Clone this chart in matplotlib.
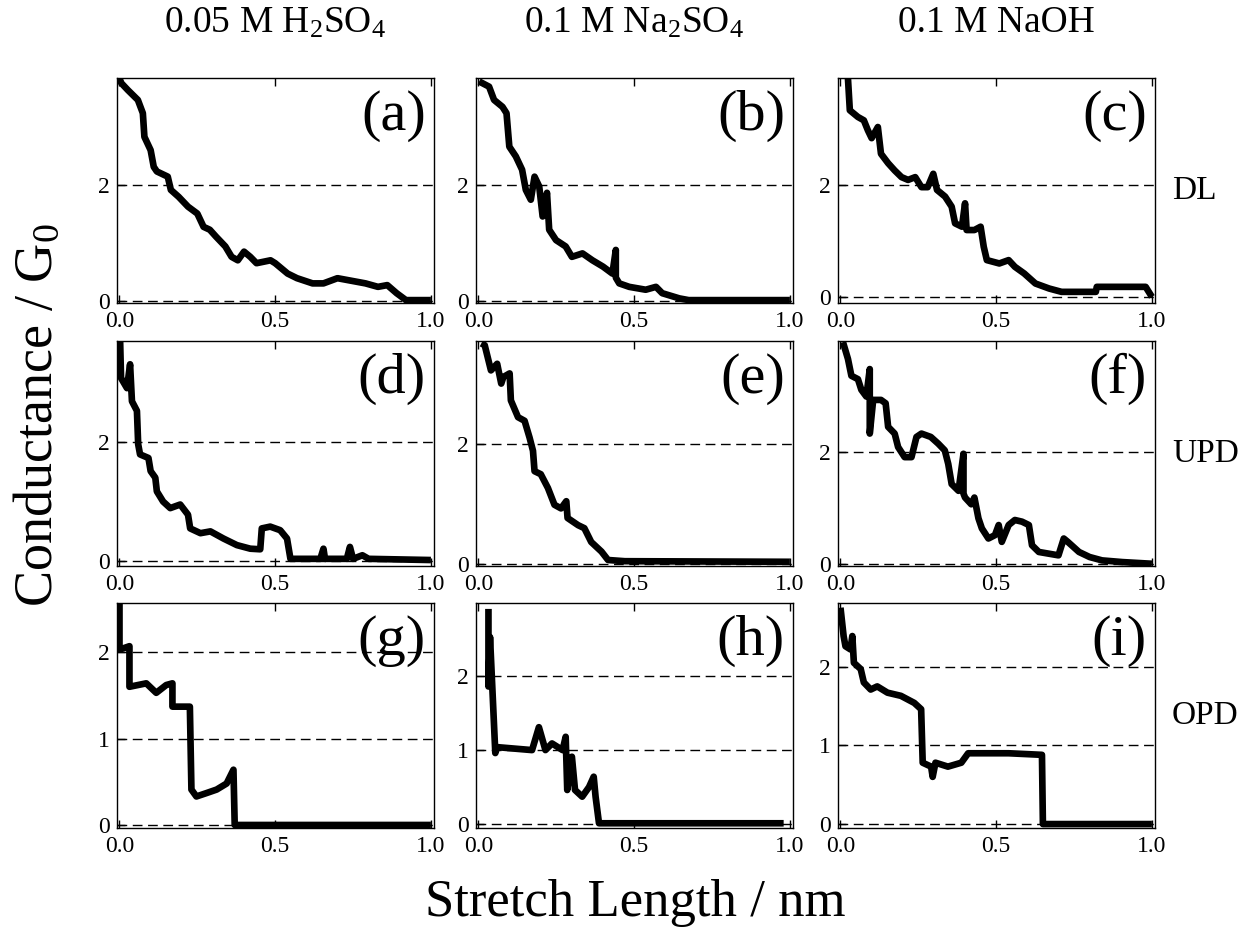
import matplotlib
matplotlib.use("Agg")
import matplotlib.pyplot as plt

plt.rcParams["font.family"] = "serif"
plt.rcParams["font.serif"] = ["Liberation Serif", "DejaVu Serif"]
plt.rcParams["mathtext.fontset"] = "custom"
plt.rcParams["mathtext.rm"] = "Liberation Serif"
plt.rcParams["mathtext.it"] = "Liberation Serif:italic"

col_titles = [r"0.05 M H$_2$SO$_4$", r"0.1 M Na$_2$SO$_4$", "0.1 M NaOH"]
row_labels = ["DL", "UPD", "OPD"]
panel_tags = ["(a)", "(b)", "(c)", "(d)", "(e)", "(f)", "(g)", "(h)", "(i)"]
x_ticks = [0.0, 0.5, 1.0]
x_ticklabels = ["0.0", "0.5", "1.0"]
row_yticks = [[0, 2], [0, 2], [0, 1, 2]]

# traces (stretch length nm, conductance G0)
a_x = [0.0, 0.006, 0.027, 0.059, 0.075, 0.08, 0.10, 0.11, 0.12, 0.155, 0.165, 0.19, 0.22, 0.25, 0.27,
       0.29, 0.31, 0.34, 0.36, 0.38, 0.40, 0.42, 0.44, 0.485, 0.50, 0.54, 0.57, 0.62, 0.655, 0.70,
       0.74, 0.79, 0.83, 0.86, 0.89, 0.92, 1.0]
a_y = [3.85, 3.77, 3.65, 3.48, 3.25, 2.84, 2.61, 2.32, 2.24, 2.15, 1.92, 1.80, 1.63, 1.51, 1.28,
       1.23, 1.11, 0.94, 0.76, 0.70, 0.85, 0.76, 0.65, 0.70, 0.65, 0.47, 0.39, 0.30, 0.30, 0.39,
       0.35, 0.30, 0.24, 0.27, 0.13, 0.01, 0.01]

b_x = [0.002, 0.034, 0.05, 0.077, 0.09, 0.099, 0.12, 0.14, 0.152, 0.168, 0.18, 0.195, 0.206, 0.22,
       0.227, 0.249, 0.28, 0.30, 0.334, 0.366, 0.40, 0.43, 0.441, 0.441, 0.452, 0.484, 0.537, 0.57,
       0.59, 0.645, 0.675, 1.0]
b_y = [3.8, 3.71, 3.48, 3.36, 3.25, 2.67, 2.50, 2.27, 1.92, 1.75, 2.15, 1.98, 1.46, 1.87,
       1.23, 1.05, 0.94, 0.76, 0.82, 0.70, 0.59, 0.47, 0.88, 0.40, 0.30, 0.24, 0.19, 0.24,
       0.13, 0.04, 0.01, 0.01]

c_x = [0.024, 0.03, 0.056, 0.075, 0.088, 0.10, 0.12, 0.13, 0.153, 0.174, 0.196, 0.217, 0.24, 0.26,
       0.28, 0.298, 0.31, 0.336, 0.357, 0.368, 0.39, 0.40, 0.405, 0.43, 0.45, 0.46, 0.47, 0.51,
       0.54, 0.56, 0.59, 0.626, 0.67, 0.71, 0.82, 0.823, 0.98, 1.0]
c_y = [3.92, 3.35, 3.23, 3.17, 2.99, 2.85, 3.05, 2.57, 2.40, 2.27, 2.15, 2.10, 2.15, 1.97,
       1.97, 2.21, 1.92, 1.80, 1.62, 1.32, 1.26, 1.68, 1.20, 1.20, 1.26, 0.90, 0.66, 0.60,
       0.66, 0.54, 0.42, 0.24, 0.15, 0.09, 0.09, 0.18, 0.18, 0.0]

d_x = [0.002, 0.005, 0.024, 0.034, 0.04, 0.056, 0.06, 0.066, 0.093, 0.10, 0.115, 0.12, 0.14, 0.163,
       0.195, 0.22, 0.227, 0.26, 0.292, 0.334, 0.377, 0.42, 0.452, 0.457, 0.484, 0.516, 0.538,
       0.549, 0.645, 0.655, 0.66, 0.73, 0.74, 0.75, 0.78, 0.80, 1.0]
d_y = [3.70, 3.07, 2.90, 3.30, 2.68, 2.52, 1.96, 1.79, 1.73, 1.51, 1.40, 1.17, 1.00, 0.89,
       0.95, 0.78, 0.55, 0.47, 0.50, 0.38, 0.27, 0.21, 0.20, 0.55, 0.58, 0.52, 0.38,
       0.04, 0.04, 0.21, 0.04, 0.04, 0.24, 0.04, 0.10, 0.04, 0.02]

e_x = [0.009, 0.02, 0.04, 0.06, 0.073, 0.08, 0.10, 0.104, 0.127, 0.148, 0.164, 0.175, 0.18, 0.20,
       0.223, 0.244, 0.265, 0.282, 0.286, 0.32, 0.34, 0.362, 0.395, 0.416, 0.47, 1.0]
e_y = [3.67, 3.64, 3.22, 3.33, 3.0, 3.11, 3.17, 2.72, 2.44, 2.38, 2.10, 1.88, 1.54, 1.49,
       1.26, 0.98, 0.92, 1.04, 0.76, 0.64, 0.59, 0.36, 0.20, 0.06, 0.04, 0.03]

f_x = [0.008, 0.024, 0.035, 0.056, 0.067, 0.083, 0.094, 0.094, 0.105, 0.13, 0.145, 0.153, 0.174,
       0.185, 0.206, 0.228, 0.244, 0.26, 0.29, 0.314, 0.335, 0.346, 0.357, 0.379, 0.395, 0.395,
       0.40, 0.42, 0.43, 0.443, 0.454, 0.475, 0.496, 0.508, 0.518, 0.54, 0.56, 0.583, 0.605,
       0.615, 0.637, 0.70, 0.717, 0.73, 0.766, 0.80, 0.84, 0.905, 1.0]
f_y = [3.95, 3.65, 3.35, 3.29, 3.10, 2.98, 3.47, 2.32, 2.92, 2.92, 2.86, 2.44, 2.32,
       2.08, 1.90, 1.90, 2.26, 2.32, 2.26, 2.14, 2.02, 1.78, 1.42, 1.30, 1.96, 1.25,
       1.18, 1.06, 1.18, 0.81, 0.63, 0.45, 0.51, 0.69, 0.39, 0.69, 0.78, 0.75, 0.69,
       0.33, 0.21, 0.15, 0.45, 0.39, 0.21, 0.12, 0.06, 0.03, 0.0]

g_x = [0.0, 0.0, 0.032, 0.032, 0.086, 0.118, 0.15, 0.17, 0.17, 0.226, 0.231, 0.247, 0.28, 0.312,
       0.344, 0.366, 0.37, 1.0]
g_y = [2.57, 2.03, 2.07, 1.60, 1.64, 1.53, 1.62, 1.64, 1.37, 1.37, 0.41, 0.33, 0.37, 0.41,
       0.48, 0.64, 0.0, 0.0]

h_x = [0.032, 0.032, 0.037, 0.054, 0.06, 0.172, 0.194, 0.215, 0.236, 0.27, 0.28, 0.285, 0.30,
       0.31, 0.333, 0.355, 0.37, 0.376, 0.387, 0.98]
h_y = [2.91, 1.86, 2.53, 0.96, 1.04, 1.0, 1.31, 1.0, 1.09, 1.0, 1.18, 0.46, 0.91,
       0.46, 0.37, 0.50, 0.64, 0.37, 0.01, 0.01]

i_x = [0.0, 0.01, 0.016, 0.032, 0.038, 0.043, 0.065, 0.075, 0.097, 0.118, 0.151, 0.194, 0.237,
       0.259, 0.264, 0.291, 0.296, 0.305, 0.345, 0.388, 0.41, 0.54, 0.647, 0.65, 1.0]
i_y = [2.75, 2.39, 2.26, 2.22, 2.39, 2.05, 1.97, 1.80, 1.71, 1.75, 1.67, 1.63, 1.54,
       1.46, 0.78, 0.73, 0.60, 0.78, 0.73, 0.78, 0.90, 0.90, 0.88, 0.0, 0.0]

traces = [(a_x, a_y), (b_x, b_y), (c_x, c_y),
          (d_x, d_y), (e_x, e_y), (f_x, f_y),
          (g_x, g_y), (h_x, h_y), (i_x, i_y)]

# axis ranges per panel
panel_ylim = [(-0.04, 3.86), (-0.04, 3.86), (-0.11, 3.93),
              (-0.08, 3.69), (-0.04, 3.71), (-0.04, 3.97),
              (-0.035, 2.57), (-0.054, 2.99), (-0.05, 2.81)]

W, H = 1260, 947
fig = plt.figure(figsize=(12.6, 9.47), dpi=100)

col_left = [117, 476, 838]
row_top = [78, 341, 603]
ax_w, ax_h = 317, 225

for k, (xs, ys) in enumerate(traces):
    r, c = divmod(k, 3)
    ax = fig.add_axes([col_left[c] / W, 1 - (row_top[r] + ax_h) / H, ax_w / W, ax_h / H])
    for yv in row_yticks[r]:
        ax.axhline(yv, color="black", lw=1.0, dashes=(7, 4), zorder=1)
    ax.plot(xs, ys, color="black", lw=4.8, solid_joinstyle="round", solid_capstyle="butt", zorder=3)
    ax.set_xlim(-0.008, 1.01)
    ax.set_ylim(*panel_ylim[k])
    ax.set_xticks(x_ticks)
    ax.set_xticklabels(x_ticklabels)
    ax.set_yticks(row_yticks[r])
    ax.tick_params(axis="x", direction="in", top=True, length=6, width=1, labelsize=17, pad=6)
    ax.tick_params(axis="y", direction="in", length=6, width=1, labelsize=17, pad=5)
    for sp in ax.spines.values():
        sp.set_linewidth(1.0)
    ax.text(0.975, 0.83, panel_tags[k], transform=ax.transAxes, ha="right", va="center", fontsize=42)
    if r == 0:
        ax.text(0.5, 1 + 55 / ax_h, col_titles[c], transform=ax.transAxes, ha="center", va="center",
                fontsize=27)
    if c == 2:
        ax.text(1 + 17 / ax_w, 0.5, row_labels[r], transform=ax.transAxes, ha="left", va="center",
                fontsize=24)

fig.text(38 / W, 1 - 415 / H, "Conductance / G$_0$", rotation=90, ha="center", va="center", fontsize=39)
fig.text(635 / W, 1 - 903 / H, "Stretch Length / nm", ha="center", va="center", fontsize=38)

plt.savefig("out.png", dpi=100)
plt.close()
